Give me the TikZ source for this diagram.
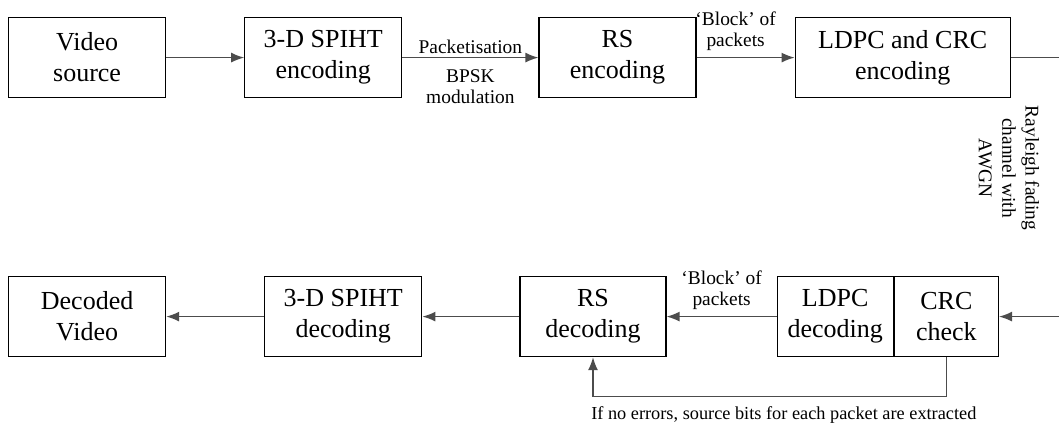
\documentclass[tikz,border=0pt]{standalone}
\usepackage{fontspec}
\setmainfont{Liberation Serif}
\usetikzlibrary{arrows.meta,positioning}

\begin{document}
\begin{tikzpicture}[
    block/.style = {draw, line width=0.6pt, minimum width=78.5pt, minimum height=40pt,
        inner sep=0pt, align=center, font=\fontsize{13}{15.5}\selectfont},
    lbl/.style = {text=black, font=\fontsize{9.7}{10.5}\selectfont, align=center, inner sep=1.5pt},
    link/.style = {line width=0.7pt, black!70},
    flow/.style = {link, -{Latex[length=6.5pt,width=5pt]}}]
\useasboundingbox (0,0) rectangle (529.5pt,-216pt);
\coordinate (r_edge) at (529.5pt,0);

% transmitter
\node[block, anchor=north west] (v_src) at (4pt,-8.5pt) {Video\\source};
\node[block] (enc_3d) [right = 39pt of v_src] {3-D SPIHT\\encoding};
\node[block] (enc_rs) [right = 68pt of enc_3d] {RS\\encoding};
\node[block, minimum width=107.5pt] (enc_ldpc) [right = 49pt of enc_rs] {LDPC and CRC\\encoding};

% receiver
\node[block, anchor=north west] (v_dec) at (4pt,-138pt) {Decoded\\Video};
\node[block] (dec_3d) [right = 49pt of v_dec] {3-D SPIHT\\decoding};
\node[block, minimum width=73pt] (dec_rs) [right = 48.5pt of dec_3d] {RS\\decoding};
\node[block, minimum width=58pt] (dec_ldpc) [right = 55pt of dec_rs] {LDPC\\decoding};
\node[block, minimum width=52pt] (dec_crc) [right = 0pt of dec_ldpc] {CRC\\check};

\coordinate (ch_out) at (enc_ldpc.east -| r_edge);
\coordinate (ch_in) at (dec_crc.east -| r_edge);
\node[lbl, rotate=-90, font=\fontsize{9.7}{11.7}\selectfont] (chan) at (504.5pt,-84pt)
    {Rayleigh fading\\channel with\\AWGN};

\draw[flow] (v_src) -- (enc_3d);
\draw[flow] (enc_3d) -- node[lbl, above] {Packetisation}
    node[lbl, below, yshift=-4pt] {BPSK\\modulation} (enc_rs);
\draw[flow] (enc_rs) -- node[lbl, above, yshift=1.5pt, xshift=-5pt] {`Block' of\\packets} (enc_ldpc);
\draw[link] (enc_ldpc) -- (ch_out);

\draw[flow] (ch_in) -- (dec_crc);
\draw[flow] (dec_ldpc) -- node[lbl, above, yshift=1.5pt] {`Block' of\\packets} (dec_rs);
\draw[flow] (dec_rs) -- (dec_3d);
\draw[flow] (dec_3d) -- (v_dec);
\draw[flow] (dec_crc.south) -- ++(0,-19.5pt) -| node[lbl, below, pos=0.23, yshift=-3.5pt,
    font=\fontsize{9.15}{10.5}\selectfont]
    {If no errors, source bits for each packet are extracted} (dec_rs.south);
\end{tikzpicture}
\end{document}
